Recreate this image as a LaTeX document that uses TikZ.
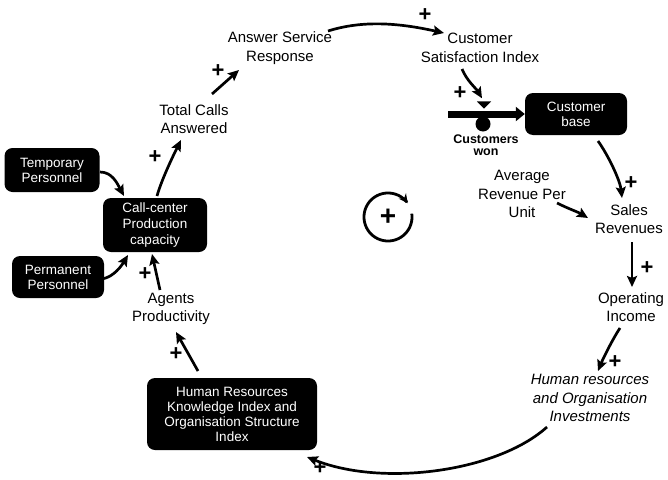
\documentclass[tikz,border=0pt]{standalone}
\usepackage{fontspec}
\setmainfont{Liberation Sans}
\usetikzlibrary{arrows.meta,calc}
\newcommand\lblfnt{\fontsize{15}{18.5}\selectfont}
\newcommand\boxfnt{\fontsize{13.5}{15}\selectfont}
\newcommand\ccfnt{\fontsize{13.5}{16}\selectfont}
\newcommand\plusfnt{\fontsize{22}{22}\selectfont\bfseries}
\newcommand\wonfnt{\fontsize{12.5}{11.5}\selectfont\bfseries}
\begin{document}
\begin{tikzpicture}[x=1pt,y=-1pt,
  box/.style={fill=black,text=white,rounded corners=8pt,align=center,font=\boxfnt,inner sep=0pt},
  lbl/.style={align=center,font=\lblfnt,inner sep=0pt},
  arr/.style={line width=2.7pt,-{Stealth[length=11pt,width=10pt,inset=2pt]}},
  pls/.style={font=\plusfnt,inner sep=0pt},
  pipe/.style={line width=7pt,-{Triangle[length=9pt,width=14pt]}}]
\useasboundingbox (0,0) rectangle (668,479);

% boxes
\node[box,minimum width=95,minimum height=44] (temp) at (52,170) {Temporary\\Personnel};
\node[box,minimum width=92,minimum height=42] (perm) at (58,277) {Permanent\\Personnel};
\node[box,minimum width=104,minimum height=54,font=\ccfnt] (cc) at (155,225) {Call-center\\Production\\capacity};
\node[box,minimum width=102,minimum height=42] (cb) at (576,114) {Customer\\base};
\node[box,minimum width=170,minimum height=72] (hrb) at (232,414) {Human Resources\\Knowledge Index and\\Organisation Structure\\Index};

% labels
\node[lbl] (tca) at (194,119) {Total Calls\\Answered};
\node[lbl] (asr) at (280,48) {Answer Service\\Response};
\node[lbl] (csi) at (480,48) {Customer\\Satisfaction Index};
\node[lbl] (arpu) at (522,194) {Average\\Revenue Per\\Unit};
\node[lbl] (sr) at (629,219) {Sales\\Revenues};
\node[lbl] (oi) at (631,307) {Operating\\Income};
\node[lbl,font=\lblfnt\itshape] (hri) at (590,398) {Human resources\\and Organisation\\Investments};
\node[lbl] (ap) at (171,309) {Agents\\Productivity};
\node[align=center,font=\wonfnt,inner sep=0pt] (cw) at (486,145) {Customers\\won};

% flow with valve
\coordinate (src) at (448,114);
\draw[pipe] (src) -- (cb.west);
\node[inner sep=0pt,minimum width=14,minimum height=7] (valve) at (484,105) {};
\fill (valve.north west) -- (valve.north east) -- (valve.south) -- cycle;
\node[circle,fill=black,minimum size=15,inner sep=0pt] (vc) at (483,124) {};

% connectors
\draw[arr] ([shift={(48,2)}]temp.center) .. controls +(12,0) and +(-7,-13) .. ([shift={(-31,-29)}]cc.center);
\draw[arr] ([shift={(44,2)}]perm.center) .. controls +(12,-2) and +(-6,10) .. ([shift={(-27,30)}]cc.center);
\draw[arr] ([shift={(-11,-19)}]ap.center) -- ([shift={(-3,29)}]cc.center);
\draw[arr] ([shift={(2,-29)}]cc.center) .. controls +(5,-18) and +(-5,10) .. ([shift={(-13,21)}]tca.center);
\draw[arr] ([shift={(18,-25)}]tca.center) -- ([shift={(-41,22)}]asr.center);
\draw[arr] ([shift={(48,-17)}]asr.center) .. controls +(35,-11) and +(-45,-10) .. ([shift={(-36,-15)}]csi.center);
\draw[arr] ([shift={(-18,21)}]csi.center) .. controls +(5,12) and +(-6,-10) .. ([shift={(-2,-3)}]valve.north);
\draw[arr] ([shift={(22,27)}]cb.center) .. controls +(10,14) and +(-2,-18) .. ([shift={(-7,-21)}]sr.center);
\draw[arr] ([shift={(35,9)}]arpu.center) .. controls +(12,6) and +(-10,-6) .. ([shift={(-41,-1)}]sr.center);
\draw[arr] ([shift={(3,23)}]sr.center) -- ([shift={(1,-20)}]oi.center);
\draw[arr] ([shift={(-11,21)}]oi.center) .. controls +(-8,12) and +(4,-10) .. ([shift={(8,-27)}]hri.center);
\draw[arr] ([shift={(-43,29)}]hri.center) .. controls +(-50,45) and +(75,30) .. ([shift={(75,43)}]hrb.center);
\draw[arr] ([shift={(-34,-43)}]hrb.center) -- ([shift={(5,23)}]ap.center);

% polarity signs
\node[pls] (p1) at (145,274) {+};
\node[pls] (p2) at (155,157) {+};
\node[pls] (p3) at (218,71) {+};
\node[pls] (p4) at (425,15) {+};
\node[pls] (p5) at (460,93) {+};
\node[pls] (p6) at (631,183) {+};
\node[pls] (p7) at (647,268) {+};
\node[pls] (p8) at (615,362) {+};
\node[pls] (p9) at (320,468) {+};
\node[pls] (p10) at (176,354) {+};

% loop symbol
\node[font=\fontsize{28}{28}\selectfont\bfseries,inner sep=0pt] (loop) at (388,217) {+};
\draw[shift={(loop.center)},line width=2.8pt,-{Stealth[length=9pt,width=9pt]}]
  plot[domain=8:-325,samples=90,smooth] ({24*cos(\x)},{-24*sin(\x)});
\end{tikzpicture}
\end{document}
